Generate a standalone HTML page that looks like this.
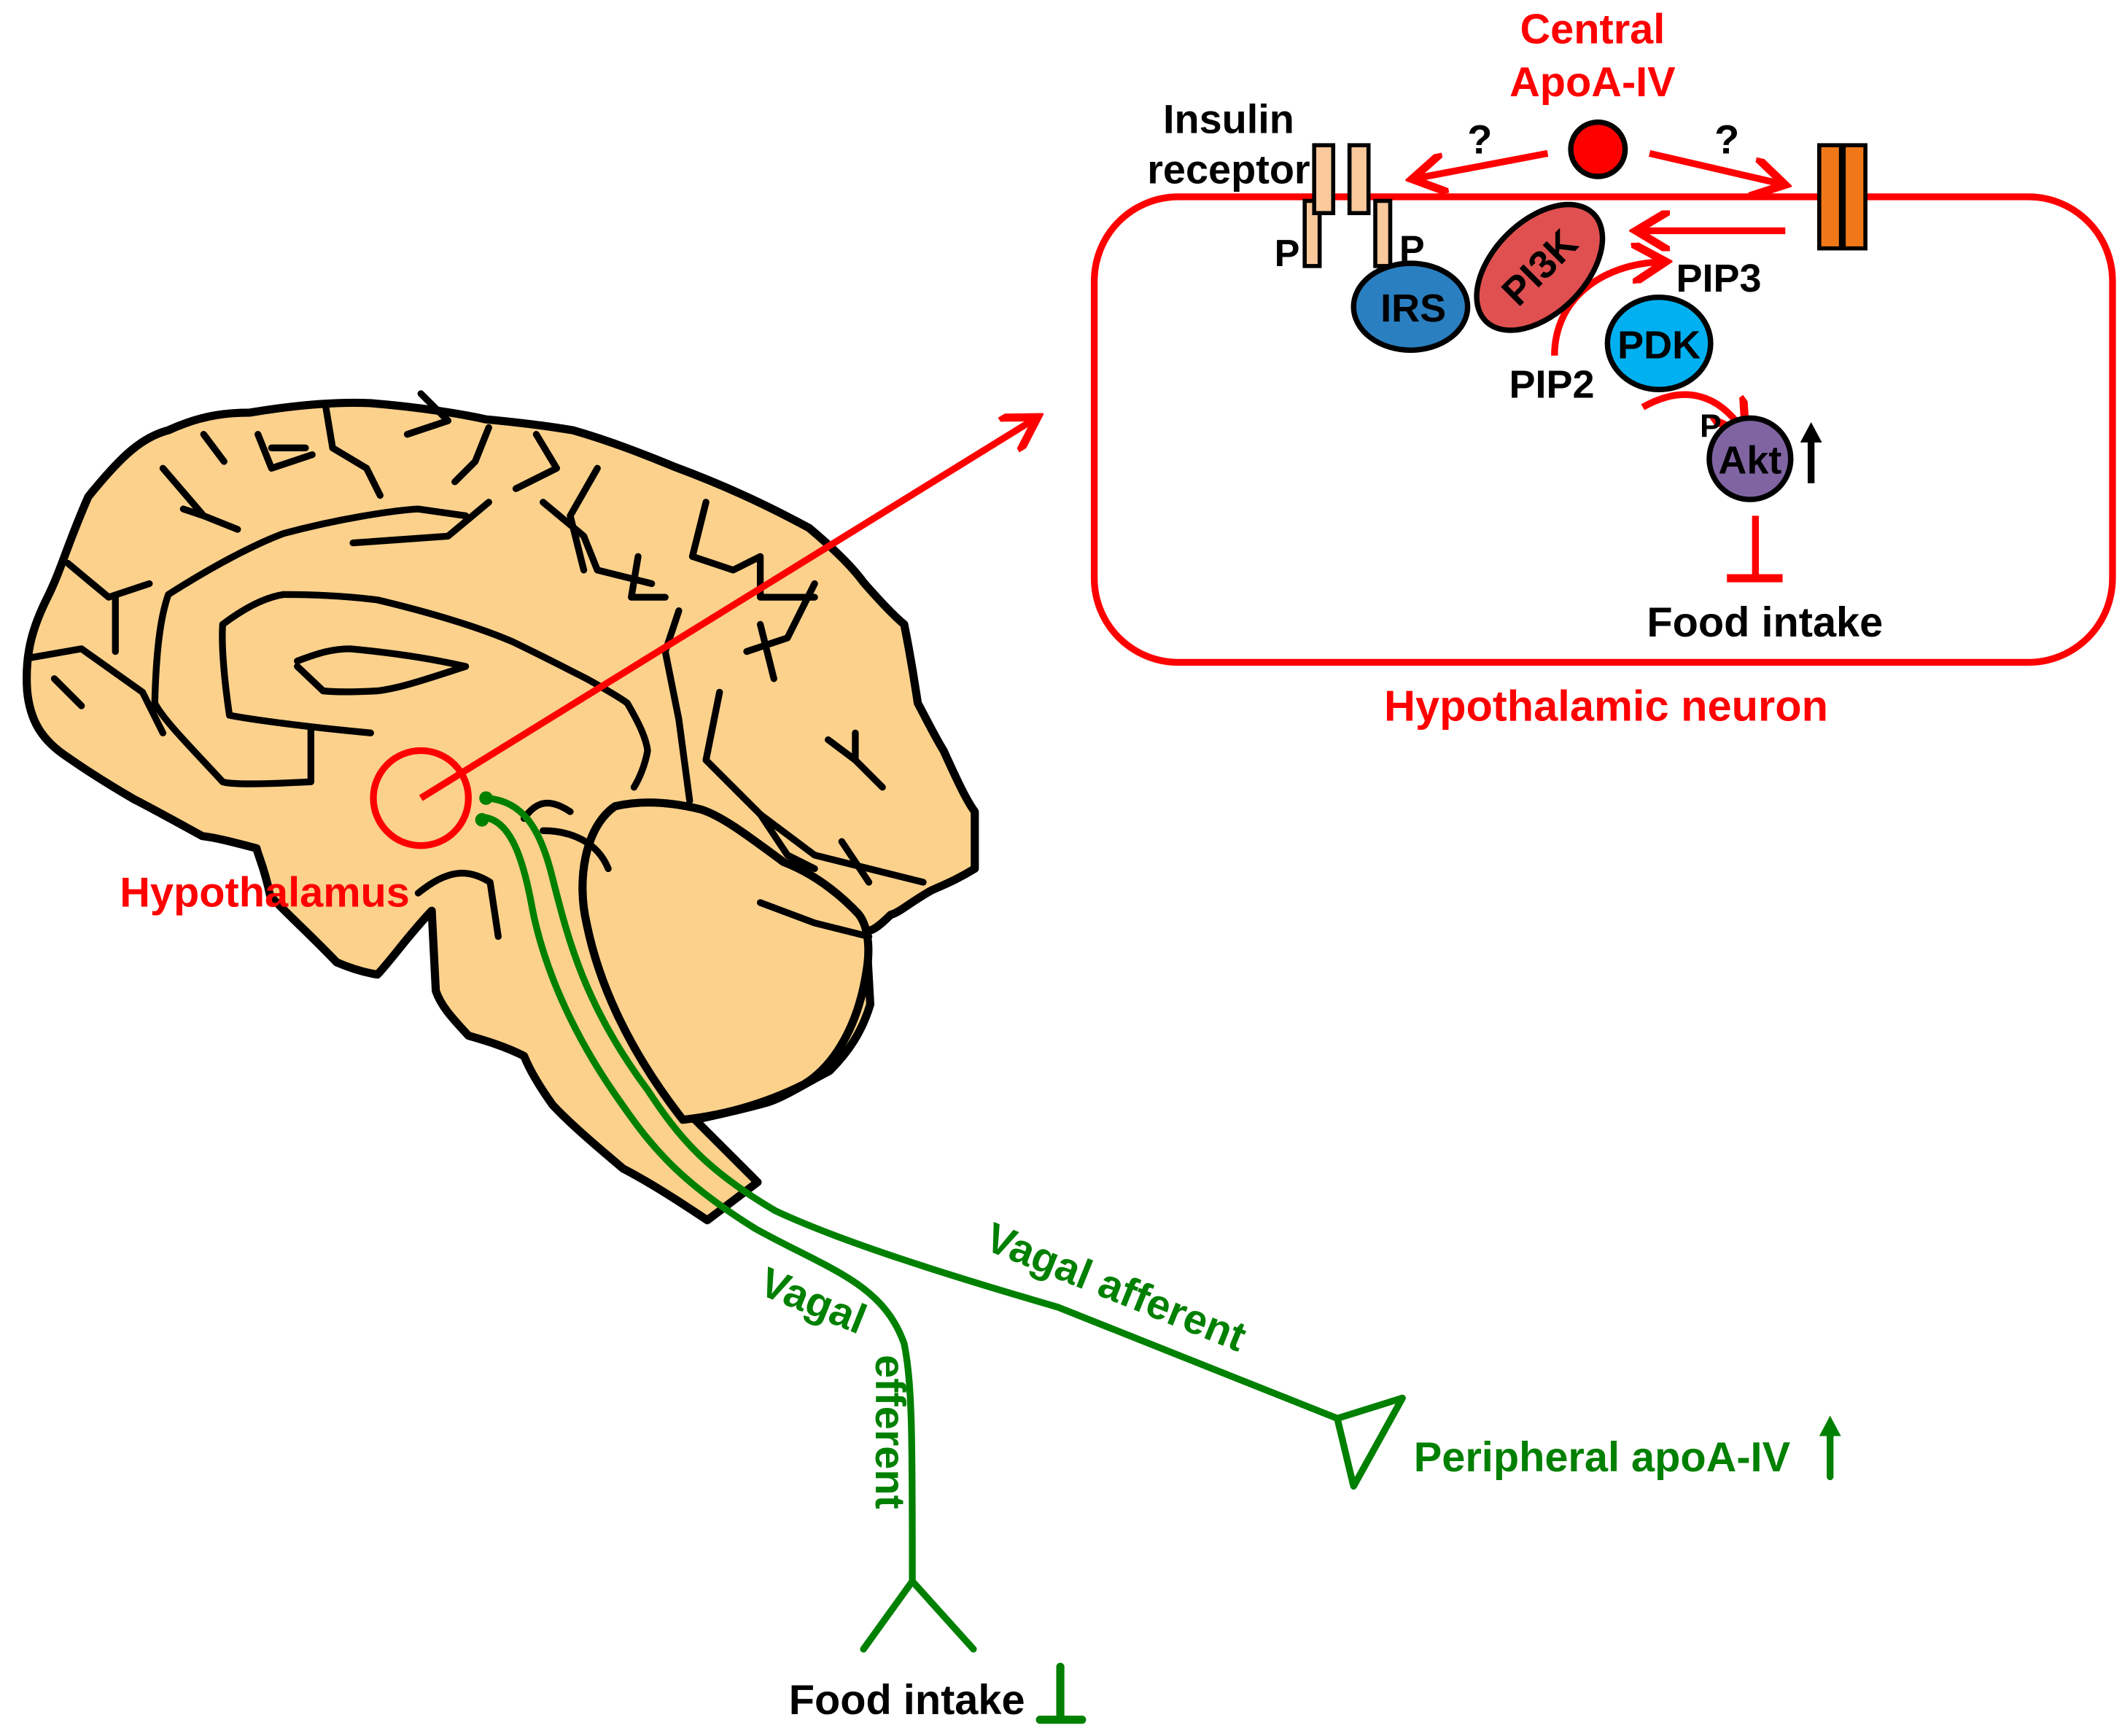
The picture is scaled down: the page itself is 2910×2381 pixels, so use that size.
<!DOCTYPE html>
<html><head><meta charset="utf-8"><style>
html,body{margin:0;padding:0;background:#fff;}
svg{display:block;}
text{font-family:"Liberation Sans",Arial,sans-serif;font-weight:bold;}
</style></head><body>
<svg width="2910" height="2381" viewBox="0 0 1563 1279" preserveAspectRatio="none" xmlns="http://www.w3.org/2000/svg">
<defs>
<marker id="ar" markerWidth="6" markerHeight="6" refX="4" refY="3" orient="auto" markerUnits="strokeWidth">
<path d="M0,0 L5,3 L0,6" fill="none" stroke="#f00" stroke-width="1.2"/></marker>
</defs>
<!-- Brain -->
<path d="M20,509 C18,480 25,460 35,440 C45,420 50,400 65,366 C90,335 105,322 124,317 C150,305 170,304 184,304 C220,298 250,296 273,297 C310,300 340,305 358,309 C390,312 410,315 422,317 C450,325 475,335 497,344 C540,360 570,375 596,389 C615,405 628,418 636,429 C650,445 660,455 666,460 C672,490 674,505 676,518 C685,535 690,545 695,553 C705,575 712,590 718,598 L718,640 C705,648 695,652 686,656 C670,665 663,672 656,674 C645,685 641,686 638,686 L641,740 C635,760 625,775 611,789 C590,800 578,808 566,812 C545,818 525,822 512,825 L558,871 L521,899 C500,885 480,872 459,861 C440,845 420,828 407,814 C397,800 390,788 386,778 C370,770 355,766 345,763 C335,752 325,742 321,730 L318,671 C300,690 290,705 278,718 C265,716 255,712 248,709 C230,690 210,672 199,660 C195,640 190,630 189,625 C170,620 158,617 149,616 C120,600 105,592 99,589 C75,575 60,565 50,558 C30,545 22,530 20,509 Z" fill="#fbd18c" stroke="#000" stroke-width="6" stroke-linejoin="round"/>
<!-- cerebellum -->
<path d="M453,594 C430,610 425,650 432,680 C440,720 460,770 503,825 C530,822 560,815 592,799 C615,785 632,755 638,717 C642,695 638,680 632,673 C610,650 590,640 577,635 C550,615 530,600 515,596 C490,590 470,590 453,594 Z" fill="#fbd18c" stroke="#000" stroke-width="6" stroke-linejoin="round"/>
<g fill="none" stroke="#000" stroke-width="5" stroke-linecap="round" stroke-linejoin="round">
<path d="M229,536 L229,576 C190,578 170,578 164,576 C140,550 120,530 114,518 C115,480 118,455 124,438 C160,415 190,400 209,393 C250,382 290,376 308,375 L343,380"/>
<path d="M273,540 C220,535 185,530 169,527 C165,500 163,475 164,460 C180,448 195,440 209,438 C240,438 262,440 278,442 C320,452 355,463 378,473 C405,486 420,494 432,500 C450,510 458,515 462,518 C472,535 476,545 477,553 C475,565 470,575 467,580"/>
<path d="M219,487 C235,481 245,478 258,478 C300,482 325,487 343,491 C315,500 295,507 278,509 C260,510 248,510 238,509 L219,491"/>
<path d="M308,658 C330,640 345,640 361,650 L367,690"/>
<path d="M386,603 C395,590 405,588 420,598 M400,612 C420,612 440,620 448,640"/>
<path d="M20,485 L60,478 L105,510 L120,540"/>
<path d="M40,500 L60,520"/>
<path d="M50,415 L80,440 L110,430 M85,440 L85,480"/>
<path d="M120,345 L150,380 L175,390 M135,375 L150,380 M150,320 L165,340"/>
<path d="M190,320 L200,345 L230,335 M200,330 L225,330"/>
<path d="M240,300 L245,330 L270,345 L280,365 M300,320 L330,310 L310,290"/>
<path d="M360,315 L350,340 L335,355 M395,320 L410,345 L380,360"/>
<path d="M260,400 L330,395 L360,370 M400,370 L430,395 L440,420 L480,430"/>
<path d="M440,345 L420,380 L430,420 M470,410 L465,440 L490,440"/>
<path d="M520,370 L510,410 L540,420 L560,410 L560,440 L600,440"/>
<path d="M600,430 L580,470 L550,480 M560,460 L570,500"/>
<path d="M500,450 L490,480 L500,530 L508,590"/>
<path d="M530,510 L520,560 L560,600 L600,630 L640,640 L680,650"/>
<path d="M610,545 L630,560 L650,580 M630,560 L630,540"/>
<path d="M560,600 L580,630 L600,640 M620,620 L640,650"/>
<path d="M560,665 L600,680 L640,690"/>
</g>
<!-- Green vagal lines -->
<g fill="none" stroke="#008000" stroke-width="5" stroke-linecap="round" stroke-linejoin="round">
<path d="M358,588 C385,590 398,610 407,647 C418,690 430,740 477,803 C500,838 520,862 571,892 C620,915 700,940 779,963 L985,1045"/>
<path d="M355,602 C375,603 385,630 392,669 C400,710 420,760 457,812 C480,845 500,870 556,905 C610,935 650,945 666,990 C672,1020 672,1060 672,1165"/>
<path d="M672,1165 L636,1215 M672,1165 L717,1215"/>
<path d="M985,1045 L1033,1030 L997,1095 Z"/>
<path d="M781,1228 L781,1267 M766,1267 L797,1267" stroke-width="6"/>
<path d="M1348,1088 L1348,1055"/>
</g>
<circle cx="358" cy="588" r="5" fill="#008000"/>
<circle cx="355" cy="604" r="5" fill="#008000"/>
<path d="M1340,1058 L1348,1043 L1356,1058 Z" fill="#008000"/>
<g fill="#008000">
<text x="818" y="958" font-size="31" text-anchor="middle" transform="rotate(22 818 958)">Vagal afferent</text>
<text x="595" y="968" font-size="31" text-anchor="middle" transform="rotate(22 595 968)">Vagal</text>
<text x="645" y="1055" font-size="31" text-anchor="middle" transform="rotate(90 645 1055)">efferent</text>
<text x="1180" y="1084" font-size="31" text-anchor="middle">Peripheral apoA-IV</text>
</g>
<text x="668" y="1263" font-size="31" fill="#000" text-anchor="middle">Food intake</text>
<!-- Hypothalamus -->
<circle cx="310" cy="588" r="35" fill="none" stroke="#f00" stroke-width="5"/>
<line x1="310" y1="588" x2="760" y2="310" stroke="#f00" stroke-width="5" marker-end="url(#ar)"/>
<text x="195" y="668" font-size="31" fill="#f00" text-anchor="middle">Hypothalamus</text>
<!-- Cell -->
<rect x="806" y="145" width="750" height="343" rx="62" fill="none" stroke="#f00" stroke-width="5"/>
<text x="1183" y="531" font-size="32" fill="#f00" text-anchor="middle">Hypothalamic neuron</text>
<text x="1173" y="32" font-size="31" fill="#f00" text-anchor="middle">Central</text>
<text x="1173" y="71" font-size="31" fill="#f00" text-anchor="middle">ApoA-IV</text>
<circle cx="1177" cy="110" r="20" fill="#f00" stroke="#000" stroke-width="4"/>
<text x="1090" y="113" font-size="30" text-anchor="middle">?</text>
<text x="1272" y="113" font-size="30" text-anchor="middle">?</text>
<g stroke="#f00" stroke-width="5" fill="none">
<line x1="1140" y1="113" x2="1045" y2="131" marker-end="url(#ar)"/>
<line x1="1215" y1="113" x2="1310" y2="135" marker-end="url(#ar)"/>
<line x1="1315" y1="170" x2="1210" y2="170" marker-end="url(#ar)"/>
<path d="M1145,262 C1145,220 1180,195 1222,193" marker-end="url(#ar)"/>
<path d="M1210,300 C1240,283 1265,290 1283,316" marker-end="url(#ar)"/>
<line x1="1293" y1="380" x2="1293" y2="425"/>
<line x1="1272" y1="426" x2="1313" y2="426" stroke-width="6"/>
</g>
<text x="905" y="98" font-size="30" text-anchor="middle">Insulin</text>
<text x="905" y="135" font-size="30" text-anchor="middle">receptor</text>
<g fill="#f9c89b" stroke="#000" stroke-width="3">
<rect x="961" y="148" width="11" height="48"/>
<rect x="1013" y="148" width="11" height="48"/>
<rect x="968" y="107" width="14" height="50"/>
<rect x="994" y="107" width="14" height="50"/>
</g>
<g fill="#f07818" stroke="#000" stroke-width="3">
<rect x="1340" y="107" width="16" height="76"/>
<rect x="1358" y="107" width="16" height="76"/>
</g>
<text x="948" y="196" font-size="28" text-anchor="middle">P</text>
<text x="1040" y="193" font-size="28" text-anchor="middle">P</text>
<ellipse cx="1039" cy="226" rx="42" ry="32" fill="#2a7fc0" stroke="#000" stroke-width="4"/>
<text x="1041" y="237" font-size="29" text-anchor="middle">IRS</text>
<ellipse cx="1134" cy="197" rx="34" ry="56" fill="#e05050" stroke="#000" stroke-width="4" transform="rotate(45 1134 197)"/>
<text x="1134" y="207" font-size="29" text-anchor="middle" transform="rotate(-45 1134 197)">PI3K</text>
<text x="1266" y="215" font-size="29" text-anchor="middle">PIP3</text>
<text x="1143" y="293" font-size="29" text-anchor="middle">PIP2</text>
<ellipse cx="1222" cy="253" rx="38" ry="34" fill="#00b0f0" stroke="#000" stroke-width="4"/>
<text x="1222" y="264" font-size="29" text-anchor="middle">PDK</text>
<circle cx="1289" cy="338" r="30" fill="#8064a2" stroke="#000" stroke-width="4"/>
<text x="1289" y="349" font-size="29" text-anchor="middle">Akt</text>
<text x="1260" y="322" font-size="24" text-anchor="middle">P</text>
<line x1="1334" y1="356" x2="1334" y2="322" stroke="#000" stroke-width="5"/>
<path d="M1326,326 L1334,311 L1342,326 Z" fill="#000"/>
<text x="1300" y="469" font-size="31" text-anchor="middle">Food intake</text>
</svg>
</body></html>
